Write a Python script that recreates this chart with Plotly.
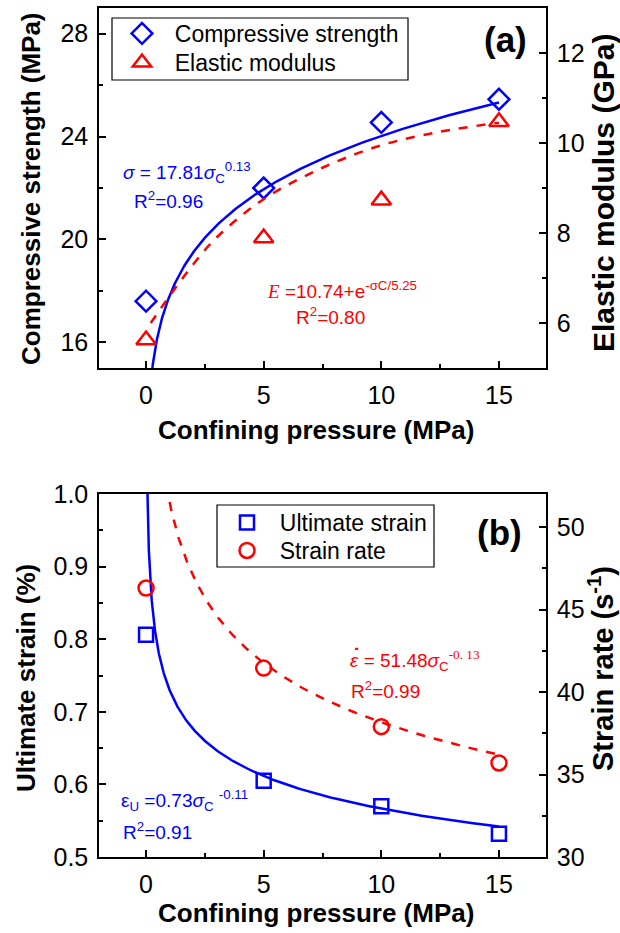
import numpy as np
import plotly.graph_objects as go

# ---------------- data ----------------
pressure = [0, 5, 10, 15]
comp_strength = [17.6, 22.0, 24.55, 25.45]     # MPa
elastic_mod = [5.62, 7.89, 8.73, 10.47]        # GPa
ult_strain = [0.806, 0.605, 0.57, 0.532]       # %
strain_rate = [46.3, 41.45, 37.9, 35.7]        # 1/s

# fitted relations printed on the chart
cs_a, cs_b = 17.81, 0.13      # sigma = a * sc^b
us_a, us_b = 0.73, -0.11      # eps_U = a * sc^b
sr_a, sr_b = 51.48, -0.13     # strain rate = a * sc^b
# red dashed fit for the elastic modulus
em_fit_x = [0.2, 1, 2, 3, 5, 7.5, 10, 12.5, 15]
em_fit_y = [6.0, 6.6, 7.3, 7.9, 8.75, 9.45, 9.95, 10.25, 10.45]

BLUE = "#0000FF"
RED = "#FF0000"
FONT = "Liberation Sans"
W, H = 620, 933
NB = "\u00a0\u00a0"


def px(x):
    return x / W


def py(y):
    return 1 - y / H


xs = np.geomspace(0.05, 15, 300)

fig = go.Figure()
# top panel
fig.add_trace(go.Scatter(x=xs, y=cs_a * xs ** cs_b, mode="lines",
                         line=dict(color=BLUE, width=2.5), showlegend=False,
                         xaxis="x", yaxis="y"))
fig.add_trace(go.Scatter(x=em_fit_x, y=em_fit_y, mode="lines",
                         line=dict(color=RED, width=2.5, dash="dash", shape="spline"),
                         showlegend=False, xaxis="x", yaxis="y2"))
fig.add_trace(go.Scatter(x=pressure, y=comp_strength, mode="markers",
                         name=NB + "Compressive strength",
                         marker=dict(symbol="diamond-open", size=16, color=BLUE,
                                     line=dict(width=2.5, color=BLUE)),
                         xaxis="x", yaxis="y", legend="legend"))
fig.add_trace(go.Scatter(x=pressure, y=elastic_mod, mode="markers",
                         name=NB + "Elastic modulus",
                         marker=dict(symbol="triangle-up-open", size=17, color=RED,
                                     line=dict(width=2.5, color=RED)),
                         xaxis="x", yaxis="y2", legend="legend3"))
# bottom panel
fig.add_trace(go.Scatter(x=xs, y=us_a * xs ** us_b, mode="lines",
                         line=dict(color=BLUE, width=2.5), showlegend=False,
                         xaxis="x2", yaxis="y3"))
xs2 = np.geomspace(0.85, 15, 200)
fig.add_trace(go.Scatter(x=xs2, y=sr_a * xs2 ** sr_b, mode="lines",
                         line=dict(color=RED, width=2.5, dash="dash"), showlegend=False,
                         xaxis="x2", yaxis="y4"))
fig.add_trace(go.Scatter(x=pressure, y=ult_strain, mode="markers",
                         name=NB + "Ultimate strain",
                         marker=dict(symbol="square-open", size=14, color=BLUE,
                                     line=dict(width=2.5, color=BLUE)),
                         xaxis="x2", yaxis="y3", legend="legend2"))
fig.add_trace(go.Scatter(x=pressure, y=strain_rate, mode="markers",
                         name=NB + "Strain rate",
                         marker=dict(symbol="circle-open", size=15, color=RED,
                                     line=dict(width=2.5, color=RED)),
                         xaxis="x2", yaxis="y4", legend="legend4"))

xdom = [px(99), px(546)]
top_dom = [py(368), py(8)]
bot_dom = [py(857), py(494)]
tickfont = dict(family=FONT, size=25, color="black")
minor_y = dict(ticks="inside", ticklen=4, tickcolor="black", tickwidth=1.5)
common = dict(showline=True, linecolor="black", linewidth=1.5, showgrid=False,
              zeroline=False, tickfont=tickfont, tickcolor="black", tickwidth=1.5,
              ticks="inside", ticklen=7, automargin=False, ticklabelstandoff=4)

xcommon = dict(common, range=[-2, 17], tick0=0, dtick=5, mirror=True,
               minor=dict(minor_y, dtick=2.5, tick0=0))

legfont = dict(family=FONT, size=23, color="black")


def leg(x, ytop):
    return dict(x=px(x), y=py(ytop), xanchor="left", yanchor="top",
                bgcolor="rgba(0,0,0,0)", borderwidth=0, font=legfont)


fig.update_layout(
    width=W, height=H, margin=dict(l=0, r=0, t=0, b=0, autoexpand=False),
    paper_bgcolor="white", plot_bgcolor="white",
    xaxis=dict(xcommon, domain=xdom, anchor="y"),
    yaxis=dict(common, domain=top_dom, anchor="x", range=[15, 29], tick0=0, dtick=4,
               minor=dict(minor_y, dtick=2)),
    yaxis2=dict(common, overlaying="y", side="right", anchor="x", range=[5, 13],
                tick0=0, dtick=2, minor=dict(minor_y, dtick=1)),
    xaxis2=dict(xcommon, domain=xdom, anchor="y3"),
    yaxis3=dict(common, domain=bot_dom, anchor="x2", range=[0.5, 1.0], tick0=0, dtick=0.1,
                tickformat=".1f", minor=dict(minor_y, dtick=0.05)),
    yaxis4=dict(common, overlaying="y3", side="right", anchor="x2", range=[30, 52],
                tick0=0, dtick=5, minor=dict(minor_y, dtick=2.5)),
    legend=leg(122, 12),
    legend3=leg(122, 41),
    legend2=leg(227, 501),
    legend4=leg(227, 529),
)

# legend boxes
fig.add_shape(type="rect", xref="paper", yref="paper", x0=px(112), x1=px(408),
              y0=py(80), y1=py(18), line=dict(color="black", width=1.2))
fig.add_shape(type="rect", xref="paper", yref="paper", x0=px(217), x1=px(434),
              y0=py(567), y1=py(505), line=dict(color="black", width=1.2))


def ann(text, x, y, size=20, color="black", xanchor="left", angle=0, bold=False):
    if bold:
        text = "<b>" + text + "</b>"
    fig.add_annotation(text=text, xref="paper", yref="paper", x=px(x), y=py(y),
                       xanchor=xanchor, yanchor="middle", showarrow=False,
                       textangle=angle, borderpad=0,
                       font=dict(family=FONT, size=size, color=color))


# axis titles
ann("Confining pressure (MPa)", 316, 430, size=26, xanchor="center", bold=True)
ann("Confining pressure (MPa)", 316, 913, size=26, xanchor="center", bold=True)
ann("Compressive strength (MPa)", 31, 189, size=26, xanchor="center", angle=-90, bold=True)
ann("Elastic modulus (GPa)", 603, 193, size=30, xanchor="center", angle=-90, bold=True)
ann("Ultimate strain (%)", 26, 678, size=26, xanchor="center", angle=-90, bold=True)
ann("Strain rate (s<sup>-1</sup>)", 601, 669, size=29, xanchor="center", angle=-90, bold=True)

# panel labels
ann("(a)", 505, 40, size=35, xanchor="center", bold=True)
ann("(b)", 500, 532, size=35, xanchor="center", bold=True)

# equations
ann("<i>σ</i> = 17.81<i>σ</i><sub>C</sub><sup>0.13</sup>", 122, 173, size=19, color=BLUE)
ann("R<sup>2</sup>=0.96", 133, 200, size=19, color=BLUE)
ann('<span style="font-family:Liberation Serif"><i>E</i></span> =10.74+e<sup>-σC/5.25</sup>',
    266, 290, size=19, color=RED)
ann("R<sup>2</sup>=0.80", 295, 316, size=19, color=RED)
ann("<i>ε</i> = 51.48<i>σ</i><sub>C</sub>"
    '<sup><span style="font-family:Liberation Serif">-0. 13</span></sup>', 349, 660,
    size=19, color=RED)
ann("<b>˙</b>", 356, 656, size=22, color=RED, xanchor="center")
ann("R<sup>2</sup>=0.99", 350, 690, size=19, color=RED)
ann("ε<sub>U</sub> =0.73<i>σ</i><sub>C</sub> <sup>-0.11</sup>", 120, 800, size=19, color=BLUE)
ann("R<sup>2</sup>=0.91", 122, 831, size=19, color=BLUE)

fig.write_html("out.html")
